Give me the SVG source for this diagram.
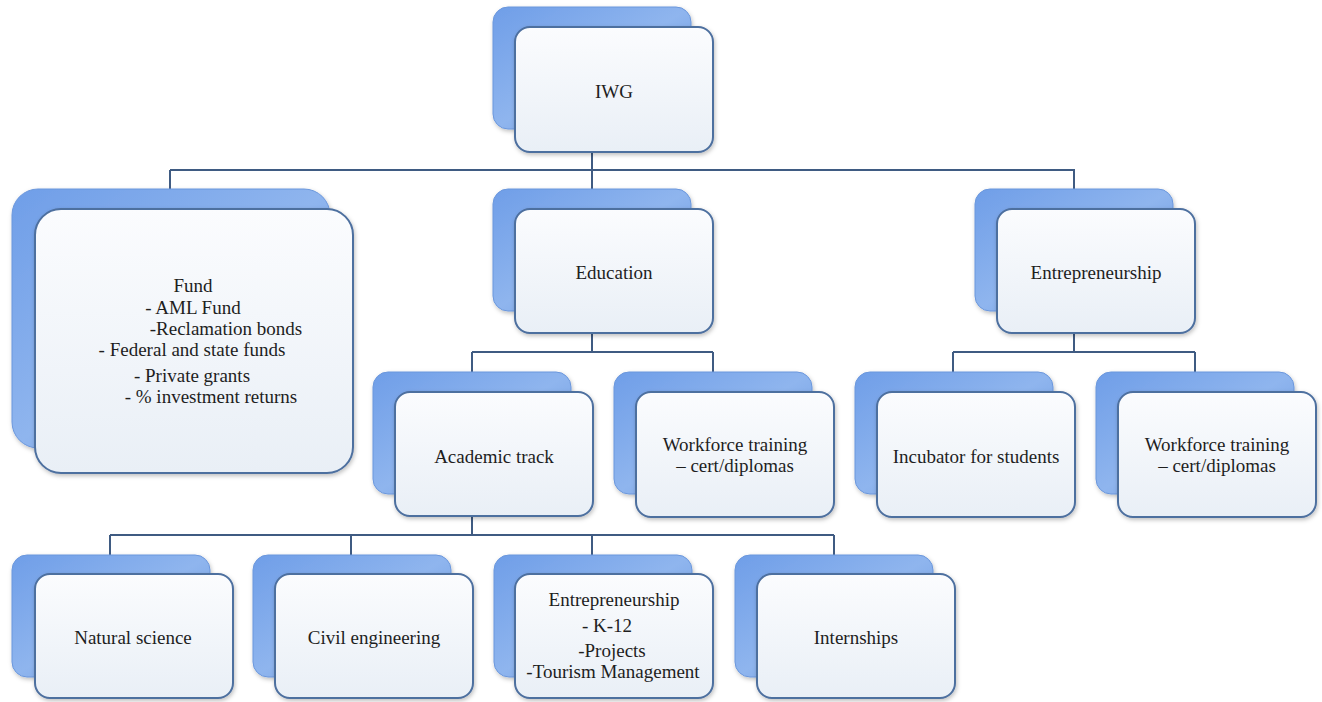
<svg xmlns="http://www.w3.org/2000/svg" width="1322" height="702" viewBox="0 0 1322 702">
<style>
.back{fill:url(#gb);stroke:#6b97dc;stroke-width:1}
.front{fill:url(#gf);stroke:#4d6f9f;stroke-width:2}
.t{font-family:"Liberation Serif","Times New Roman",serif;font-size:19px;fill:#1e1e1e;text-anchor:middle}
.c{stroke:#3f5b82;stroke-width:2;fill:none}
</style>
<defs>
<linearGradient id="gb" x1="0" y1="0" x2="1" y2="1">
<stop offset="0" stop-color="#6f9ee8"/>
<stop offset="0.5" stop-color="#8fb5ee"/>
<stop offset="1" stop-color="#5f90dc"/>
</linearGradient>
<linearGradient id="gf" x1="0" y1="0" x2="0" y2="1">
<stop offset="0" stop-color="#fbfcfe"/>
<stop offset="1" stop-color="#e9eff6"/>
</linearGradient>
<filter id="sh" x="-10%" y="-10%" width="130%" height="130%">
<feDropShadow dx="1" dy="2" stdDeviation="2" flood-color="#000" flood-opacity="0.25"/>
</filter>
</defs>
<rect width="1322" height="702" fill="#ffffff"/>
<g id="connectors">
<path class="c" d="M592 152V170M170 170H1075M170 170V190M592 170V190M1074 170V190"/>
<path class="c" d="M592 332V352M472 352H713M472 352V372M713 352V372"/>
<path class="c" d="M1074 332V352M953 352H1195M953 352V372M1195 352V372"/>
<path class="c" d="M472 515V535M110 535H834M110 535V555M351 535V555M592 535V555M834 535V555"/>
</g>
<g id="iwg">
<rect class="back" x="493" y="7" width="198" height="122" rx="15" filter="url(#sh)"/>
<rect class="front" x="515" y="27" width="198" height="125" rx="15" filter="url(#sh)"/>
<text class="t" x="614" y="98">IWG</text>
</g>
<g id="fund">
<rect class="back" x="12" y="189" width="318" height="259" rx="26" filter="url(#sh)"/>
<rect class="front" x="35" y="209" width="318" height="264" rx="26" filter="url(#sh)"/>
<text class="t" x="193" y="292">Fund</text>
<text class="t" x="193" y="314">- AML Fund</text>
<text class="t" x="226" y="335">-Reclamation bonds</text>
<text class="t" x="192" y="356">- Federal and state funds</text>
<text class="t" x="192" y="382">- Private grants</text>
<text class="t" x="211" y="403">- % investment returns</text>
</g>
<g id="education">
<rect class="back" x="493" y="189" width="198" height="122" rx="15" filter="url(#sh)"/>
<rect class="front" x="515" y="209" width="198" height="124" rx="15" filter="url(#sh)"/>
<text class="t" x="614" y="279">Education</text>
</g>
<g id="entrepreneurship">
<rect class="back" x="975" y="189" width="198" height="122" rx="15" filter="url(#sh)"/>
<rect class="front" x="997" y="209" width="198" height="124" rx="15" filter="url(#sh)"/>
<text class="t" x="1096" y="279">Entrepreneurship</text>
</g>
<g id="academic">
<rect class="back" x="373" y="372" width="198" height="122" rx="15" filter="url(#sh)"/>
<rect class="front" x="395" y="392" width="198" height="124" rx="15" filter="url(#sh)"/>
<text class="t" x="494" y="463">Academic track</text>
</g>
<g id="workforce-edu">
<rect class="back" x="614" y="372" width="198" height="122" rx="15" filter="url(#sh)"/>
<rect class="front" x="636" y="392" width="198" height="125" rx="15" filter="url(#sh)"/>
<text class="t" x="735" y="451">Workforce training</text>
<text class="t" x="735" y="472">– cert/diplomas</text>
</g>
<g id="incubator">
<rect class="back" x="855" y="372" width="198" height="122" rx="15" filter="url(#sh)"/>
<rect class="front" x="877" y="392" width="198" height="125" rx="15" filter="url(#sh)"/>
<text class="t" x="976" y="463">Incubator for students</text>
</g>
<g id="workforce-ent">
<rect class="back" x="1096" y="372" width="198" height="122" rx="15" filter="url(#sh)"/>
<rect class="front" x="1118" y="392" width="198" height="125" rx="15" filter="url(#sh)"/>
<text class="t" x="1217" y="451">Workforce training</text>
<text class="t" x="1217" y="472">– cert/diplomas</text>
</g>
<g id="natural-science">
<rect class="back" x="12" y="555" width="198" height="122" rx="15" filter="url(#sh)"/>
<rect class="front" x="35" y="574" width="198" height="124" rx="15" filter="url(#sh)"/>
<text class="t" x="133" y="644">Natural science</text>
</g>
<g id="civil-engineering">
<rect class="back" x="253" y="555" width="198" height="122" rx="15" filter="url(#sh)"/>
<rect class="front" x="275" y="574" width="198" height="124" rx="15" filter="url(#sh)"/>
<text class="t" x="374" y="644">Civil engineering</text>
</g>
<g id="entrepreneurship-k12">
<rect class="back" x="494" y="555" width="198" height="122" rx="15" filter="url(#sh)"/>
<rect class="front" x="515" y="574" width="198" height="124" rx="15" filter="url(#sh)"/>
<text class="t" x="614" y="606">Entrepreneurship</text>
<text class="t" x="607" y="632">- K-12</text>
<text class="t" x="612" y="657">-Projects</text>
<text class="t" x="613" y="678">-Tourism Management</text>
</g>
<g id="internships">
<rect class="back" x="735" y="555" width="198" height="122" rx="15" filter="url(#sh)"/>
<rect class="front" x="757" y="574" width="198" height="124" rx="15" filter="url(#sh)"/>
<text class="t" x="856" y="644">Internships</text>
</g>
</svg>
